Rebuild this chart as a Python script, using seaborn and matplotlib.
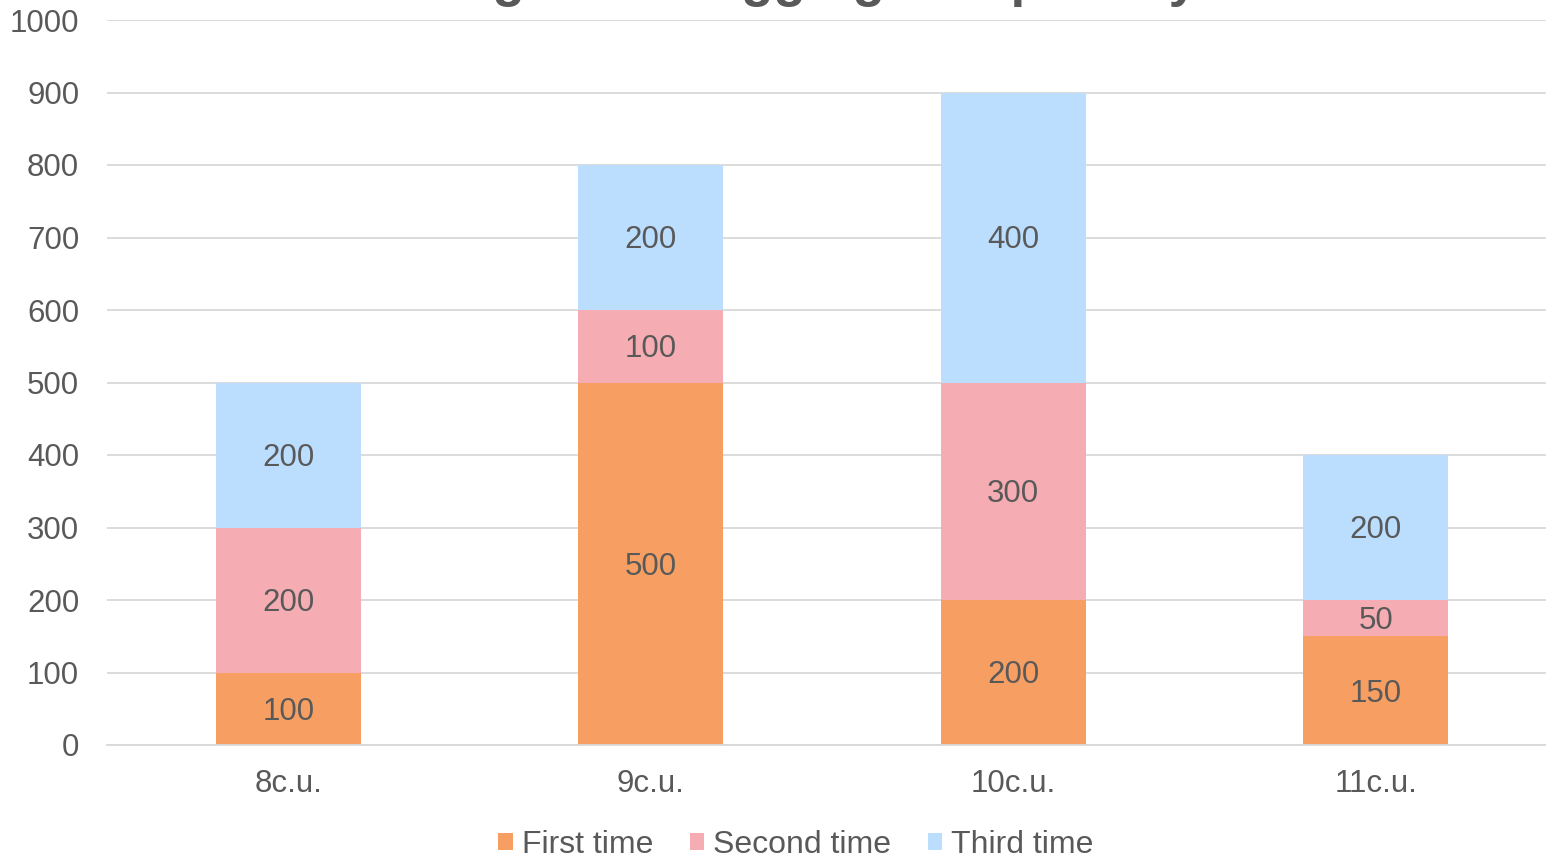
import matplotlib
matplotlib.use("Agg")
import matplotlib.pyplot as plt
from matplotlib.patches import Patch
import pandas as pd
import seaborn as sns

# Chart data
categories = ["8c.u.", "9c.u.", "10c.u.", "11c.u."]
first_time = [100, 500, 200, 150]
second_time = [200, 100, 300, 50]
third_time = [200, 200, 400, 200]
series_names = ["First time", "Second time", "Third time"]
y_ticks = list(range(0, 1001, 100))
title_text = "Average user logging rate per day"

# Styling
colors = ["#F79F63", "#F5ADB3", "#BBDEFF"]
text_color = "#595959"
grid_color = "#D9D9D9"
font_size = 22.5

sns.set_theme(style="white")
plt.rcParams["font.family"] = ["Liberation Sans", "DejaVu Sans"]

W, H = 1546, 857
fig = plt.figure(figsize=(W / 100, H / 100), dpi=100)
ax = fig.add_axes([107 / W, (H - 745) / H, (1557 - 107) / W, (745 - 20) / H])

df = pd.DataFrame({"category": categories,
                   series_names[0]: first_time,
                   series_names[1]: second_time,
                   series_names[2]: third_time})
cum = df[series_names].cumsum(axis=1)

# Stacked bars: draw the cumulative totals from the top segment down
for name, color in reversed(list(zip(series_names, colors))):
    sns.barplot(x=df["category"], y=cum[name], color=color, width=0.4,
                saturation=1, errorbar=None, linewidth=0, ax=ax)

# Segment value labels
for name in series_names:
    bottoms = cum[name] - df[name]
    for i, (b, v) in enumerate(zip(bottoms, df[name])):
        ax.text(i, b + v / 2 - 4, f"{v}", ha="center", va="center",
                fontsize=font_size, color=text_color)

ax.set_ylim(0, 1000)
ax.set_yticks(y_ticks)
ax.set_xlim(-0.5, len(categories) - 0.5)
ax.set_xlabel("")
ax.set_ylabel("")
ax.set_axisbelow(True)
ax.yaxis.grid(True, color=grid_color, linewidth=1.3)
ax.xaxis.grid(False)
for side in ["top", "right", "left"]:
    ax.spines[side].set_visible(False)
ax.spines["bottom"].set_color(grid_color)
ax.spines["bottom"].set_linewidth(1.3)
ax.tick_params(axis="y", length=0, pad=20, labelsize=font_size, labelcolor=text_color)
ax.tick_params(axis="x", length=0, pad=17, labelsize=font_size, labelcolor=text_color)

# Legend
handles = [Patch(facecolor=c, edgecolor="none") for c in colors]
fig.legend(handles, series_names, loc="center", bbox_to_anchor=(796 / W, 1 - 845 / H),
           ncol=3, frameon=False, handlelength=0.45, handleheight=0.45,
           handletextpad=0.28, columnspacing=1.15, fontsize=23,
           labelcolor=text_color, borderaxespad=0, borderpad=0)

# Title
fig.text(0.5, 1 + 4 / H, title_text, ha="center", va="baseline",
         fontsize=38, fontweight="bold", color=text_color)

fig.savefig("out.png", dpi=100)
